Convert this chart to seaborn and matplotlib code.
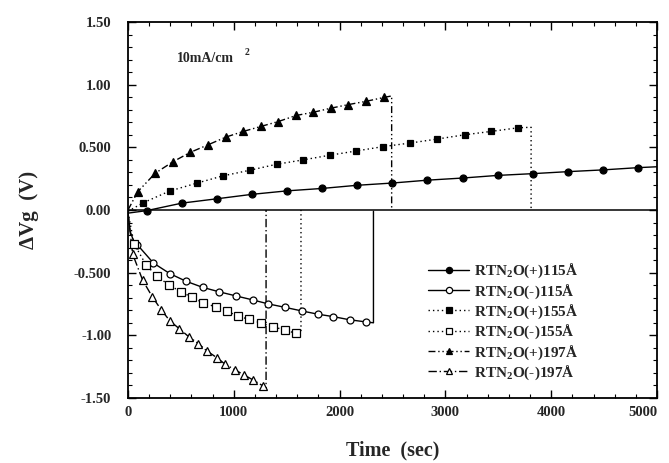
import numpy as np
import pandas as pd
import seaborn as sns
import matplotlib
matplotlib.use("Agg")
import matplotlib.pyplot as plt
from matplotlib.lines import Line2D
from matplotlib.ticker import MultipleLocator, FixedLocator, FixedFormatter

# ---------------- data ----------------
t_p115 = [177, 510, 845, 1172, 1507, 1835, 2163, 2497, 2830, 3162, 3494, 3825, 4158, 4490, 4822]
v_p115 = [-0.005, 0.055, 0.09, 0.125, 0.153, 0.172, 0.197, 0.215, 0.238, 0.255, 0.276, 0.29, 0.306, 0.32, 0.338]
t_p115_start, v_p115_start = [0], [-0.025]
t_p115_end, v_p115_end = [5000], [0.345]

t_m115 = [89, 240, 396, 550, 705, 863, 1018, 1177, 1325, 1480, 1641, 1793, 1942, 2095, 2250]
v_m115 = [-0.278, -0.423, -0.508, -0.569, -0.617, -0.653, -0.685, -0.717, -0.749, -0.776, -0.805, -0.831, -0.851, -0.876, -0.893]
t_m115_start, v_m115_start = [0, 20, 50], [-0.02, -0.17, -0.24]
t_m115_end, v_m115_end = [2320, 2320], [-0.9, -0.01]

t_p155 = [145, 393, 649, 896, 1150, 1405, 1657, 1906, 2158, 2413, 2665, 2921, 3182, 3431, 3689]
v_p155 = [0.058, 0.151, 0.214, 0.272, 0.317, 0.365, 0.40, 0.437, 0.471, 0.506, 0.534, 0.566, 0.60, 0.627, 0.656]
t_p155_start, v_p155_start = [0], [-0.01]
t_p155_end, v_p155_end = [3810, 3810], [0.66, 0.0]

t_m155 = [58, 172, 276, 389, 501, 606, 712, 829, 936, 1042, 1146, 1260, 1368, 1484, 1588]
v_m155 = [-0.271, -0.44, -0.529, -0.60, -0.652, -0.697, -0.741, -0.773, -0.808, -0.847, -0.873, -0.902, -0.931, -0.958, -0.984]
t_m155_start, v_m155_start = [0], [-0.02]
t_m155_end, v_m155_end = [1635, 1635], [-0.99, 0.0]

t_p197 = [91, 258, 421, 586, 759, 926, 1090, 1257, 1421, 1588, 1752, 1916, 2082, 2250, 2423]
v_p197 = [0.145, 0.294, 0.383, 0.459, 0.521, 0.582, 0.627, 0.667, 0.706, 0.754, 0.78, 0.812, 0.841, 0.867, 0.899]
t_p197_start, v_p197_start = [0], [0.0]
t_p197_end, v_p197_end = [2492, 2492], [0.91, 0.0]

t_m197 = [44, 139, 230, 312, 397, 485, 577, 665, 744, 838, 917, 1011, 1099, 1184, 1273]
v_m197 = [-0.352, -0.561, -0.693, -0.794, -0.886, -0.947, -1.013, -1.066, -1.124, -1.177, -1.23, -1.275, -1.317, -1.357, -1.402]
t_m197_start, v_m197_start = [0], [-0.02]
t_m197_end, v_m197_end = [1305, 1305], [-1.42, 0.0]

labels = ["RTN$_2$O(+)115Å", "RTN$_2$O(-)115Å", "RTN$_2$O(+)155Å",
          "RTN$_2$O(-)155Å", "RTN$_2$O(+)197Å", "RTN$_2$O(-)197Å"]

y_ticks = [1.5, 1.0, 0.5, 0.0, -0.5, -1.0, -1.5]
y_ticklabels = ["1.50", "1.00", "0.500", "0.00", "-0.500", "-1.00", "-1.50"]
x_ticks = [0, 1000, 2000, 3000, 4000, 5000]
x_ticklabels = ["0", "1000", "2000", "3000", "4000", "5000"]

# ---------------- style ----------------
sns.set_theme(style="white")
plt.rcParams["font.family"] = ["Liberation Serif", "DejaVu Serif"]
plt.rcParams["font.weight"] = "bold"
plt.rcParams["mathtext.fontset"] = "custom"
plt.rcParams["mathtext.bf"] = "Liberation Serif:bold"
plt.rcParams["mathtext.rm"] = "Liberation Serif:bold"
plt.rcParams["mathtext.default"] = "bf"

fig = plt.figure(figsize=(6.69, 4.63), dpi=100)
ax = fig.add_axes([128 / 669, 1 - 398 / 463, 529 / 669, 376 / 463])

series = [
    (t_p115_start, t_p115, t_p115_end, v_p115_start, v_p115, v_p115_end, "-", "o", "black", 5.0),
    (t_m115_start, t_m115, t_m115_end, v_m115_start, v_m115, v_m115_end, "-", "o", "white", 5.0),
    (t_p155_start, t_p155, t_p155_end, v_p155_start, v_p155, v_p155_end, (0, (1, 2.2)), "s", "black", 5.0),
    (t_m155_start, t_m155, t_m155_end, v_m155_start, v_m155, v_m155_end, (0, (1, 2.2)), "s", "white", 5.5),
    (t_p197_start, t_p197, t_p197_end, v_p197_start, v_p197, v_p197_end, (0, (5, 2, 1, 2, 1, 2)), "^", "black", 5.5),
    (t_m197_start, t_m197, t_m197_end, v_m197_start, v_m197, v_m197_end, (0, (6, 2, 1, 2)), "^", "white", 5.5),
]

# zero baseline
ax.axhline(0.0, color="black", lw=1.1, zorder=1)

handles = []
for (ts, tm, te, vs, vm, ve, ls, mk, fc, ms), lab in zip(series, labels):
    tx = list(ts) + list(tm) + list(te)
    vy = list(vs) + list(vm) + list(ve)
    sns.lineplot(x=tx, y=vy, sort=False, estimator=None, color="black",
                 linestyle=ls, lw=1.0, ax=ax, zorder=2)
    sns.lineplot(x=tm, y=vm, sort=False, estimator=None, color="black",
                 linestyle="none", marker=mk, markersize=ms,
                 markerfacecolor=fc, markeredgecolor="black", markeredgewidth=0.9,
                 ax=ax, zorder=3)
    handles.append(Line2D([], [], color="black", linestyle=ls, lw=1.0, marker=mk,
                          markersize=ms - 0.5, markerfacecolor=fc,
                          markeredgecolor="black", markeredgewidth=0.9))

ax.set_xlim(0, 5000)
ax.set_ylim(-1.5, 1.5)
ax.xaxis.set_major_locator(FixedLocator(x_ticks))
ax.xaxis.set_major_formatter(FixedFormatter(x_ticklabels))
ax.yaxis.set_major_locator(FixedLocator(y_ticks))
ax.yaxis.set_major_formatter(FixedFormatter(y_ticklabels))
ax.xaxis.set_minor_locator(MultipleLocator(200))
ax.yaxis.set_minor_locator(MultipleLocator(0.1))
ax.tick_params(which="both", direction="in", top=True, right=True,
               bottom=True, left=True, color="black")
ax.tick_params(which="major", length=6, width=1.0, labelsize=10.5)
ax.tick_params(which="minor", length=3, width=0.8)
ax.tick_params(axis="y", which="major", pad=12)
ax.tick_params(axis="x", which="major", pad=6)
for lab in ax.get_xticklabels() + ax.get_yticklabels():
    lab.set_fontweight("bold")

fig.canvas.draw()
xt = ax.get_xticklabels()
xt[-1].set_horizontalalignment("right")
xt[-1].set_x(5000)

for sp in ax.spines.values():
    sp.set_color("black")
    sp.set_linewidth(1.3)

ax.set_xlabel("Time  (sec)", fontsize=14.5, fontweight="bold")
ax.set_ylabel("ΔVg  (V)", fontsize=15, fontweight="bold")
ax.xaxis.set_label_coords(0.5, -0.112)
ax.yaxis.set_label_coords(-0.168, 0.5)

ax.text(463, 1.205, "10mA/cm", fontsize=10, fontweight="bold", va="center", ha="left")
ax.text(1100, 1.26, "2", fontsize=7, fontweight="bold", va="center", ha="left")

leg = ax.legend(handles, labels, loc="upper left", bbox_to_anchor=(0.567, 0.362),
                frameon=False, fontsize=11, handlelength=2.7, handletextpad=0.3,
                labelspacing=0.13, borderpad=0, borderaxespad=0)
for txt in leg.get_texts():
    txt.set_fontweight("bold")

fig.savefig("out.png", dpi=100)
